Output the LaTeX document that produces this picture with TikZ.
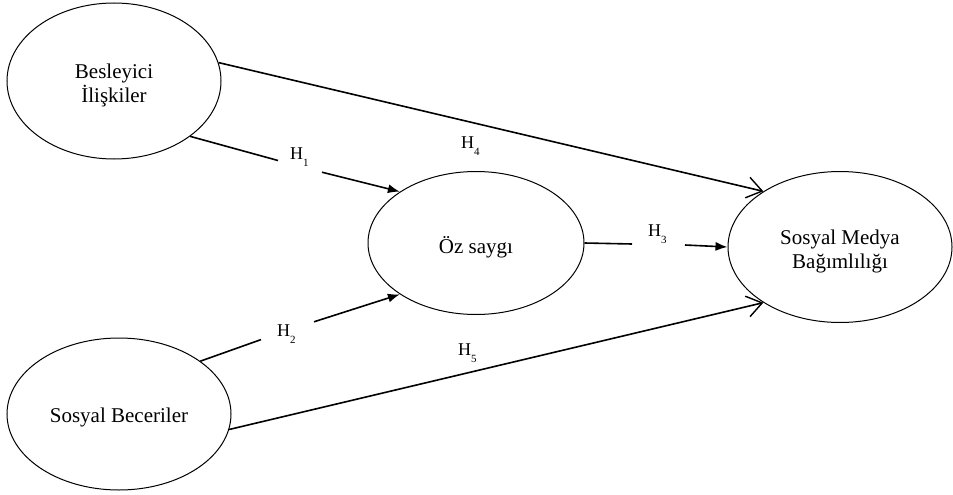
\documentclass[tikz,border=0pt]{standalone}
\usepackage{fontspec}
\setmainfont{Liberation Serif}
\usetikzlibrary{shapes.geometric,arrows.meta}
\tikzset{
  construct/.style={draw, ellipse, line width=1pt, inner sep=0pt},
  ctext/.style={inner sep=0pt, align=center, font=\fontsize{21}{24}\selectfont},
  link/.style={line width=1.6pt},
  solidtip/.style={-{Latex[length=12pt,width=9pt]}},
  opentip/.style={-{Straight Barb[length=15pt,width=21pt,line width=1.4pt]}},
  hyp/.style={anchor=base west, inner sep=0pt, font=\fontsize{18}{18}\selectfont}
}
\newcommand\hyplabel[1]{H\raisebox{-7pt}{\fontsize{11}{11}\selectfont #1}}
\begin{document}
\begin{tikzpicture}[x=1pt,y=-1pt]
\useasboundingbox (0,0) rectangle (953,495);
\node[construct, minimum width=214pt, minimum height=156pt] (bes) at (114,81) {};
\node[construct, minimum width=224pt, minimum height=152pt] (sb) at (119,414) {};
\node[construct, minimum width=216pt, minimum height=143pt] (oz) at (476,243) {};
\node[construct, minimum width=224pt, minimum height=151pt] (smb) at (840,247) {};

\node[ctext] (besT) at ([yshift=-4pt]bes.center) {Besleyici\\İlişkiler};
\node[ctext] (sbT) at ([yshift=-3pt]sb.center) {Sosyal Beceriler};
\node[ctext] (ozT) at ([yshift=-4pt]oz.center) {Öz saygı};
\node[ctext] (smbT) at ([yshift=-4pt]smb.center) {Sosyal Medya\\Bağımlılığı};

% gap coordinates
\coordinate (g1a) at (278,160.5);
\coordinate (g1b) at (322,172.2);
\coordinate (g2a) at (261,339.6);
\coordinate (g2b) at (314,321.8);
\coordinate (g3a) at (632,244);
\coordinate (g3b) at (685,245);

% H1
\draw[link] (bes.-36.4) -- (g1a);
\draw[link, solidtip] (g1b) -- (oz.146.7);
% H2
\draw[link] (sb.33.7) -- (g2a);
\draw[link, solidtip] (g2b) -- (oz.-146.7);
% H3
\draw[link] (oz.0) -- (g3a);
\draw[link, solidtip] (g3b) -- (smb.180);
% H4
\draw[link, opentip] (bes.10.6) -- (smb.144.8);
% H5
\draw[link, opentip] (sb.-8.1) -- (smb.-144.8);

% labels
\node[hyp] (h1) at (290,159.3) {\hyplabel{1}};
\node[hyp] (h2) at (277,336.7) {\hyplabel{2}};
\node[hyp] (h3) at (648,236.7) {\hyplabel{3}};
\node[hyp] (h4) at (461,148.3) {\hyplabel{4}};
\node[hyp] (h5) at (458,355.7) {\hyplabel{5}};
\end{tikzpicture}
\end{document}
